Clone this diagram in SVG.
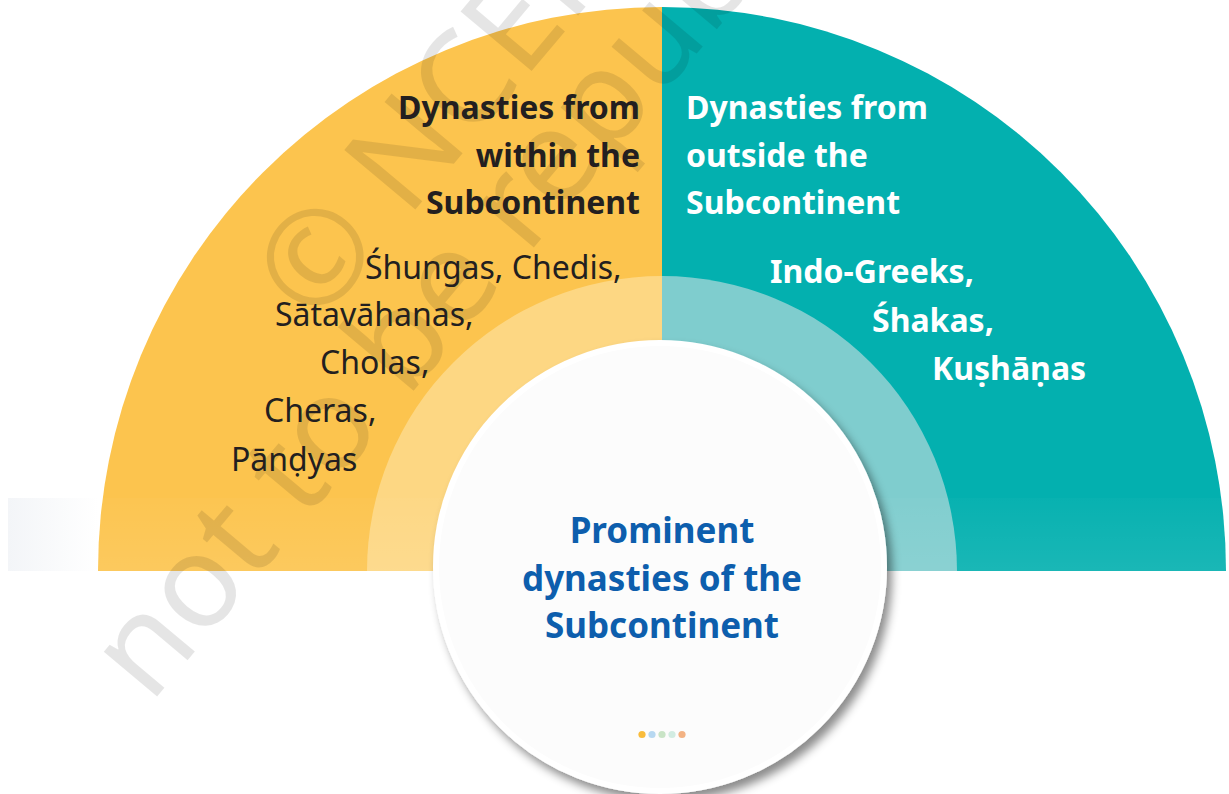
<svg xmlns="http://www.w3.org/2000/svg" width="1229" height="794" viewBox="0 0 1229 794">
  <defs>
    <filter id="shadow" x="-20%" y="-20%" width="150%" height="150%">
      <feDropShadow dx="5" dy="7" stdDeviation="5" flood-color="#000" flood-opacity="0.45"/>
    </filter>
    <linearGradient id="bandFade" x1="0" y1="0" x2="0" y2="1">
      <stop offset="0" stop-color="#fff" stop-opacity="0.02"/>
      <stop offset="1" stop-color="#fff" stop-opacity="0.09"/>
    </linearGradient>
    <linearGradient id="leftBand" x1="0" y1="0" x2="1" y2="0">
      <stop offset="0" stop-color="#F3F5F8"/>
      <stop offset="1" stop-color="#FFFFFF"/>
    </linearGradient>
    <style>
      .hd { font-family: "Noto Sans", "Open Sans", sans-serif; font-weight: 700; font-size: 32px; }
      .it { font-family: "Noto Sans", "Open Sans", sans-serif; font-weight: 400; font-size: 32px; fill: #231F20; }
      .itb { font-family: "Noto Sans", "Open Sans", sans-serif; font-weight: 700; font-size: 32px; fill: #FFFFFF; }
      .dark { fill: #231F20; }
      .white { fill: #FFFFFF; }
      .center { font-family: "Noto Sans", "Open Sans", sans-serif; font-weight: 700; font-size: 35px; fill: #0D5EAD; text-anchor: middle; }
      .wm { font-family: "Noto Sans", "Open Sans", sans-serif; font-weight: 400; font-size: 130px; fill: #000; fill-opacity: 0.1; }
    </style>
  </defs>
  <rect width="1229" height="794" fill="#FFFFFF"/>

  <g id="within">
    <path d="M 98 571 A 564 564 0 0 1 662 7 L 662 571 Z" fill="#FCC44E"/>
    <path d="M 367 571 A 295 295 0 0 1 662 276 L 662 571 Z" fill="#FDD783"/>
  </g>
  <g id="outside">
    <path d="M 662 7 A 564 564 0 0 1 1226 571 L 662 571 Z" fill="#03B0AF"/>
    <path d="M 662 276 A 295 295 0 0 1 957 571 L 662 571 Z" fill="#7FCDCE"/>
  </g>

  <g id="band">
    <rect x="8" y="498" width="90" height="73" fill="url(#leftBand)"/>
    <rect x="98" y="498" width="1128" height="73" fill="url(#bandFade)"/>
  </g>

  <g id="watermark">
    <text class="wm" transform="translate(150,705) rotate(-50)">not to be republished</text>
    <text class="wm" transform="translate(316,328) rotate(-50)">© NCERT</text>
  </g>

  <g id="within-text">
    <text class="hd dark" text-anchor="end" x="640" y="119">Dynasties from</text>
    <text class="hd dark" text-anchor="end" x="640" y="167">within the</text>
    <text class="hd dark" text-anchor="end" x="640" y="214">Subcontinent</text>
    <text class="it" x="365" y="279">Śhungas, Chedis,</text>
    <text class="it" x="275" y="326">Sātavāhanas,</text>
    <text class="it" x="320" y="374">Cholas,</text>
    <text class="it" x="264" y="422">Cheras,</text>
    <text class="it" x="231" y="471">Pānḍyas</text>
  </g>

  <g id="outside-text">
    <text class="hd white" x="686" y="119">Dynasties from</text>
    <text class="hd white" x="686" y="167">outside the</text>
    <text class="hd white" x="686" y="214">Subcontinent</text>
    <text class="itb" x="770" y="283">Indo-Greeks,</text>
    <text class="itb" x="872" y="332">Śhakas,</text>
    <text class="itb" x="932" y="380">Kuṣhāṇas</text>
  </g>

  <g id="centre">
    <circle cx="660" cy="567" r="224" fill="#FCFCFC" stroke="#FFFFFF" stroke-width="6" filter="url(#shadow)"/>
    <text class="center" x="662" y="543">Prominent</text>
    <text class="center" x="662" y="591">dynasties of the</text>
    <text class="center" x="662" y="638">Subcontinent</text>
    <circle cx="642" cy="734.5" r="3.6" fill="#F9BC3C"/>
    <circle cx="652" cy="734.5" r="3.6" fill="#B7D8F1"/>
    <circle cx="662" cy="734.5" r="3.6" fill="#C9E4C6"/>
    <circle cx="672" cy="734.5" r="3.6" fill="#D2ECE2"/>
    <circle cx="682" cy="734.5" r="3.6" fill="#F3B283"/>
  </g>
</svg>
